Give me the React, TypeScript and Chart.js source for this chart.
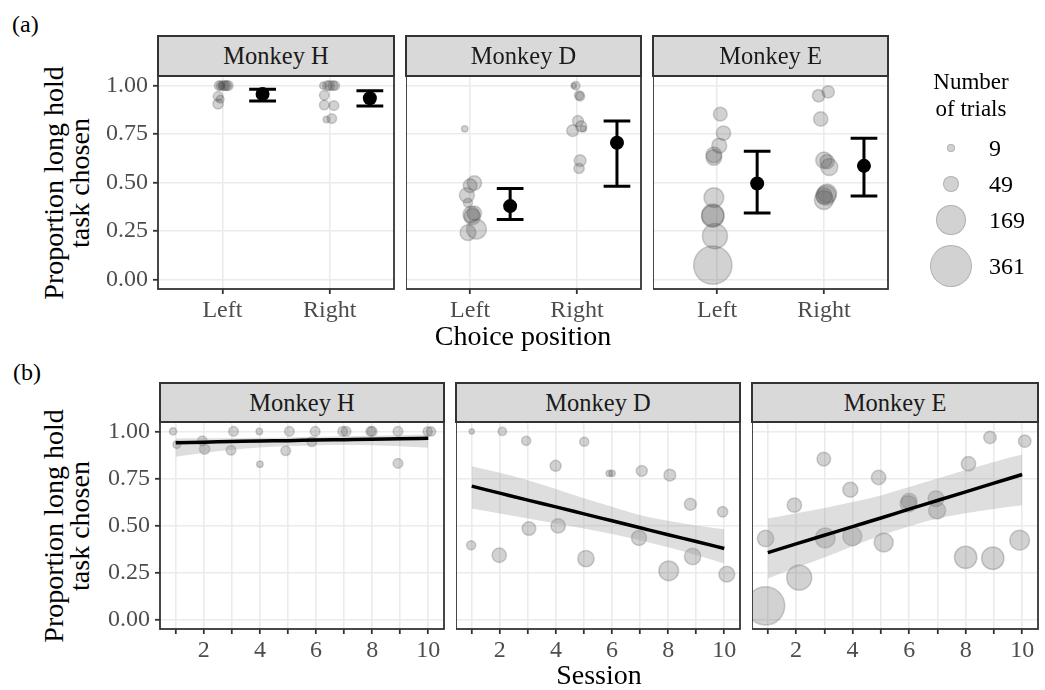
import React, { useEffect, useRef } from "react";
import { Chart, registerables } from "chart.js";

Chart.register(...registerables);

// ---------------- data ----------------
const monkeys = ["Monkey H", "Monkey D", "Monkey E"];
const sides = ["Left", "Right"];
const sessions = [1, 2, 3, 4, 5, 6, 7, 8, 9, 10];
const yTickValues = [0, 0.25, 0.5, 0.75, 1];
const legendTrials = [9, 49, 169, 361];

// Monkey H
const hLeft = [0.93, 0.906, 1.0, 1.0, 1.0, 0.945, 1.0, 1.0, 1.0, 1.0];
const hRight = [1.0, 0.95, 0.9, 0.825, 0.897, 1.0, 1.0, 1.0, 0.83, 1.0];
const hLeftN = [13, 23, 20, 9, 20, 20, 20, 20, 20, 18];
const hRightN = [11, 20, 20, 9, 20, 20, 20, 20, 20, 18];
const hLeftJitterA = [-0.02, -0.04, -0.03, -0.01, 0.01, -0.04, 0.025, 0.04, 0.055, -0.015];
const hRightJitterA = [-0.06, -0.05, -0.05, -0.03, 0.04, -0.02, 0.0, 0.03, 0.02, 0.05];
const hLeftJitterB = [0.04, 0.03, 0.06, -0.02, 0.05, -0.15, -0.05, -0.05, -0.08, -0.02];
const hRightJitterB = [-0.095, -0.05, -0.03, 0.0, -0.08, -0.03, 0.07, 0.0, -0.08, 0.1];
const hFit = [0.94, 0.943, 0.946, 0.949, 0.951, 0.954, 0.956, 0.958, 0.961, 0.963];
const hUpper = [0.962, 0.963, 0.964, 0.966, 0.968, 0.971, 0.974, 0.977, 0.98, 0.983];
const hLower = [0.865, 0.885, 0.902, 0.914, 0.922, 0.927, 0.928, 0.926, 0.921, 0.913];

// Monkey D
const dLeft = [0.395, 0.342, 0.484, 0.498, 0.324, 0.777, 0.434, 0.259, 0.335, 0.241];
const dRight = [1.0, 1.0, 0.95, 0.817, 0.945, 0.777, 0.79, 0.768, 0.613, 0.573];
const dLeftN = [18, 44, 40, 44, 57, 9, 48, 83, 57, 53];
const dRightN = [6, 15, 18, 26, 18, 9, 26, 30, 30, 23];
const dLeftJitterA = [-0.02, 0.04, 0.0, 0.04, 0.02, -0.05, -0.03, 0.06, 0.01, -0.02];
const dRightJitterA = [-0.03, -0.01, 0.02, 0.01, 0.03, 0.06, 0.04, -0.04, 0.03, 0.02];
const dLeftJitterB = [-0.02, -0.02, 0.04, 0.08, 0.07, 0.0, -0.04, 0.02, -0.13, 0.09];
const dRightJitterB = [0.0, 0.09, -0.06, -0.01, 0.01, -0.1, 0.06, 0.06, -0.21, -0.06];
const dFit = [0.709, 0.672, 0.635, 0.599, 0.562, 0.525, 0.488, 0.451, 0.415, 0.378];
const dUpper = [0.815, 0.78, 0.741, 0.694, 0.645, 0.6, 0.556, 0.525, 0.5, 0.48];
const dLower = [0.59, 0.564, 0.537, 0.51, 0.484, 0.455, 0.422, 0.385, 0.343, 0.298];

// Monkey E
const eLeft = [0.073, 0.223, 0.853, 0.69, 0.755, 0.63, 0.643, 0.331, 0.326, 0.422];
const eRight = [0.431, 0.608, 0.434, 0.443, 0.41, 0.615, 0.58, 0.828, 0.968, 0.948];
const eLeftN = [311, 133, 40, 48, 44, 53, 53, 106, 106, 83];
const eRightN = [57, 44, 83, 77, 77, 57, 62, 44, 33, 33];
const eLeftJitterA = [-0.04, -0.02, 0.03, 0.02, 0.06, -0.03, -0.03, -0.04, -0.04, -0.03];
const eRightJitterA = [0.0, 0.03, 0.02, 0.03, 0.0, 0.0, 0.05, -0.03, 0.04, -0.05];
const eLeftJitterB = [-0.08, 0.11, -0.02, -0.08, -0.08, 0.0, -0.05, 0.0, -0.04, -0.09];
const eRightJitterB = [-0.08, -0.06, 0.03, -0.01, 0.1, -0.03, -0.01, 0.1, -0.14, 0.09];
const eFit = [0.356, 0.402, 0.448, 0.494, 0.54, 0.587, 0.633, 0.679, 0.725, 0.771];
const eUpper = [0.537, 0.565, 0.593, 0.625, 0.66, 0.705, 0.75, 0.795, 0.838, 0.877];
const eLower = [0.218, 0.275, 0.33, 0.39, 0.447, 0.495, 0.537, 0.565, 0.588, 0.608];

// Summary (mean and interval) per monkey, H / D / E
const meanLeft = [0.957, 0.378, 0.495];
const lowLeft = [0.921, 0.309, 0.343];
const highLeft = [0.981, 0.469, 0.662];
const meanRight = [0.935, 0.705, 0.586];
const lowRight = [0.895, 0.481, 0.43];
const highRight = [0.974, 0.817, 0.728];

const monkeyRows = [
  { left: hLeft, right: hRight, leftN: hLeftN, rightN: hRightN, lja: hLeftJitterA, rja: hRightJitterA, ljb: hLeftJitterB, rjb: hRightJitterB, fit: hFit, upper: hUpper, lower: hLower },
  { left: dLeft, right: dRight, leftN: dLeftN, rightN: dRightN, lja: dLeftJitterA, rja: dRightJitterA, ljb: dLeftJitterB, rjb: dRightJitterB, fit: dFit, upper: dUpper, lower: dLower },
  { left: eLeft, right: eRight, leftN: eLeftN, rightN: eRightN, lja: eLeftJitterA, rja: eRightJitterA, ljb: eLeftJitterB, rjb: eRightJitterB, fit: eFit, upper: eUpper, lower: eLower },
];

// ---------------- style / layout ----------------
const FONT = '"Liberation Serif", "Times New Roman", Times, serif';
const GRID = "#EBEBEB";
const DARK = "#333333";
const TICK_COLOR = "#4D4D4D";
const POINT = "rgba(77,77,77,0.25)";
const RIBBON = "rgba(153,153,153,0.32)";
const PT = 26;
const PR = 14;
const XH = 38;
const YW = 52;
const MEAN_OFFSET = 0.375;
const CAP = 0.125;

const topPanels = [[158, 394], [406, 641], [653, 888]];
const botPanels = [[160, 444], [456, 740], [752, 1038]];
const TOP_T = 76, TOP_B = 289, BOT_T = 422, BOT_B = 629;

const visR = (n: number) => 0.7 + 1.09 * Math.sqrt(n);
const bubbleR = (n: number) => visR(n) - 0.75;

function rectFor(L: number, R: number, T: number, B: number, first: boolean) {
  const yw = first ? YW : 0;
  return { left: L - yw, top: T - PT, width: R - L + yw + PR, height: B - T + PT + XH, yw };
}

const framePlugin = {
  id: "panelFrame",
  afterDraw(chart: any) {
    const { ctx, chartArea: a } = chart;
    ctx.save();
    ctx.strokeStyle = DARK;
    ctx.lineWidth = 1.8;
    ctx.strokeRect(a.left, a.top, a.right - a.left, a.bottom - a.top);
    ctx.restore();
  },
};

function errorBarPlugin(bars: { x: number; lo: number; hi: number }[]) {
  return {
    id: "errorBars",
    afterDatasetsDraw(chart: any) {
      const { ctx } = chart;
      const xs = chart.scales.x;
      const ys = chart.scales.y;
      ctx.save();
      ctx.strokeStyle = "#000";
      ctx.lineWidth = 3;
      ctx.beginPath();
      for (const b of bars) {
        const x = xs.getPixelForValue(b.x);
        const x0 = xs.getPixelForValue(b.x - CAP);
        const x1 = xs.getPixelForValue(b.x + CAP);
        const yl = ys.getPixelForValue(b.lo);
        const yh = ys.getPixelForValue(b.hi);
        ctx.moveTo(x, yl); ctx.lineTo(x, yh);
        ctx.moveTo(x0, yl); ctx.lineTo(x1, yl);
        ctx.moveTo(x0, yh); ctx.lineTo(x1, yh);
      }
      ctx.stroke();
      ctx.restore();
    },
  };
}

function scalesFor(xmin: number, xmax: number, xTicks: number[], cb: any, showY: boolean, yw: number) {
  const tickFont = { family: FONT, size: 24 };
  return {
    x: {
      type: "linear",
      min: xmin,
      max: xmax,
      afterBuildTicks: (s: any) => { s.ticks = xTicks.map((v) => ({ value: v })); },
      afterFit: (s: any) => { s.height = XH; },
      ticks: { autoSkip: false, maxRotation: 0, minRotation: 0, padding: 2, color: TICK_COLOR, font: tickFont, callback: cb },
      grid: { color: GRID, lineWidth: 1.6, drawTicks: true, tickLength: 5, tickColor: DARK, tickWidth: 1.8 },
      border: { display: false },
    },
    y: {
      type: "linear",
      min: -0.05,
      max: 1.05,
      afterBuildTicks: (s: any) => { s.ticks = yTickValues.map((v) => ({ value: v })); },
      afterFit: (s: any) => { s.width = yw; },
      ticks: { display: showY, padding: 5, color: TICK_COLOR, font: tickFont, callback: (v: any) => Number(v).toFixed(2) },
      grid: { color: GRID, lineWidth: 1.6, drawTicks: showY, tickLength: 5, tickColor: DARK, tickWidth: 1.8 },
      border: { display: false },
    },
  };
}

function baseOptions(scales: any) {
  return {
    animation: false,
    responsive: false,
    maintainAspectRatio: false,
    events: [],
    layout: { autoPadding: false, padding: { top: PT, right: PR, left: 0, bottom: 0 } },
    plugins: { legend: { display: false }, tooltip: { enabled: false }, title: { display: false } },
    scales,
  };
}

function topConfig(m: number, yw: number): any {
  const d = monkeyRows[m];
  const pts: any[] = [];
  d.left.forEach((v, i) => pts.push({ x: 1 + d.lja[i], y: v, r: bubbleR(d.leftN[i]) }));
  d.right.forEach((v, i) => pts.push({ x: 2 + d.rja[i], y: v, r: bubbleR(d.rightN[i]) }));
  const means = [
    { x: 1 + MEAN_OFFSET, y: meanLeft[m], r: 7 },
    { x: 2 + MEAN_OFFSET, y: meanRight[m], r: 7 },
  ];
  const bars = [
    { x: 1 + MEAN_OFFSET, lo: lowLeft[m], hi: highLeft[m] },
    { x: 2 + MEAN_OFFSET, lo: lowRight[m], hi: highRight[m] },
  ];
  return {
    type: "bubble",
    data: {
      datasets: [
        { type: "bubble", data: pts, backgroundColor: POINT, borderColor: POINT, borderWidth: 1.5, clip: 0, order: 2 },
        { type: "bubble", data: means, backgroundColor: "#000", borderColor: "#000", borderWidth: 0, clip: 0, order: 1 },
      ],
    },
    options: baseOptions(scalesFor(0.4, 2.6, [1, 2], (_v: any, i: number) => sides[i], yw > 0, yw)),
    plugins: [errorBarPlugin(bars), framePlugin],
  };
}

function bottomConfig(m: number, yw: number): any {
  const d = monkeyRows[m];
  const pts: any[] = [];
  sessions.forEach((s, i) => {
    pts.push({ x: s + d.ljb[i], y: d.left[i], r: bubbleR(d.leftN[i]) });
    pts.push({ x: s + d.rjb[i], y: d.right[i], r: bubbleR(d.rightN[i]) });
  });
  const line = (arr: number[]) => sessions.map((s, i) => ({ x: s, y: arr[i] }));
  return {
    type: "bubble",
    data: {
      datasets: [
        { type: "bubble", data: pts, backgroundColor: POINT, borderColor: POINT, borderWidth: 1.5, clip: 0, order: 3 },
        { type: "line", data: line(d.upper), borderWidth: 0, borderColor: "rgba(0,0,0,0)", pointRadius: 0, fill: "+1", backgroundColor: RIBBON, cubicInterpolationMode: "monotone", order: 2 },
        { type: "line", data: line(d.lower), borderWidth: 0, borderColor: "rgba(0,0,0,0)", pointRadius: 0, fill: false, cubicInterpolationMode: "monotone", order: 2 },
        { type: "line", data: line(d.fit), borderWidth: 3.5, borderColor: "#000", pointRadius: 0, fill: false, cubicInterpolationMode: "monotone", order: 1 },
      ],
    },
    options: baseOptions(
      scalesFor(0.44, 10.56, sessions, (v: any) => (Number(v) % 2 === 0 ? String(v) : ""), yw > 0, yw)
    ),
    plugins: [framePlugin],
  };
}

const text = (extra: React.CSSProperties): React.CSSProperties => ({
  position: "absolute",
  fontFamily: FONT,
  whiteSpace: "nowrap",
  ...extra,
});

export default function App() {
  const topRefs = useRef<(HTMLCanvasElement | null)[]>([]);
  const botRefs = useRef<(HTMLCanvasElement | null)[]>([]);

  const topRects = topPanels.map(([L, R], i) => rectFor(L, R, TOP_T, TOP_B, i === 0));
  const botRects = botPanels.map(([L, R], i) => rectFor(L, R, BOT_T, BOT_B, i === 0));

  useEffect(() => {
    const charts: Chart[] = [];
    topRefs.current.forEach((c, i) => {
      if (c) charts.push(new Chart(c, topConfig(i, topRects[i].yw)));
    });
    botRefs.current.forEach((c, i) => {
      if (c) charts.push(new Chart(c, bottomConfig(i, botRects[i].yw)));
    });
    return () => charts.forEach((c) => c.destroy());
  }, []);

  const strip = (L: number, R: number, top: number, h: number, label: string) => (
    <div
      key={label + top}
      style={{
        position: "absolute",
        left: L - 1,
        top,
        width: R - L + 2,
        height: h,
        boxSizing: "border-box",
        border: `2px solid ${DARK}`,
        background: "#D9D9D9",
        display: "flex",
        alignItems: "center",
        justifyContent: "center",
        fontFamily: FONT,
        fontSize: 24.5,
        color: "#1A1A1A",
      }}
    >
      {label}
    </div>
  );

  const yTitle = (cy: number) => (
    <div
      style={text({
        left: 67 - 140,
        top: cy - 26,
        width: 280,
        height: 52,
        lineHeight: "26px",
        fontSize: 28,
        textAlign: "center",
        color: "#000",
        transform: "rotate(-90deg)",
      })}
    >
      Proportion long hold
      <br />
      task chosen
    </div>
  );

  return (
    <div style={{ position: "absolute", left: 0, top: 0, width: 1045, height: 690, background: "#fff", overflow: "hidden" }}>
      {topRects.map((r, i) => (
        <canvas
          key={"t" + i}
          ref={(el) => { topRefs.current[i] = el; }}
          width={r.width}
          height={r.height}
          style={{ position: "absolute", left: r.left, top: r.top, width: r.width, height: r.height }}
        />
      ))}
      {botRects.map((r, i) => (
        <canvas
          key={"b" + i}
          ref={(el) => { botRefs.current[i] = el; }}
          width={r.width}
          height={r.height}
          style={{ position: "absolute", left: r.left, top: r.top, width: r.width, height: r.height }}
        />
      ))}
      {topPanels.map(([L, R], i) => strip(L, R, 35, 42, monkeys[i]))}
      {botPanels.map(([L, R], i) => strip(L, R, 382, 41, monkeys[i]))}

      <div style={text({ left: 12, top: 10, fontSize: 24, lineHeight: "28px", color: "#000" })}>(a)</div>
      <div style={text({ left: 13, top: 358, fontSize: 24, lineHeight: "28px", color: "#000" })}>(b)</div>

      {yTitle((TOP_T + TOP_B) / 2)}
      {yTitle((BOT_T + BOT_B) / 2)}

      <div style={text({ left: 523 - 200, top: 320, width: 400, textAlign: "center", fontSize: 28, lineHeight: "32px", color: "#000" })}>
        Choice position
      </div>
      <div style={text({ left: 599 - 200, top: 659, width: 400, textAlign: "center", fontSize: 28, lineHeight: "32px", color: "#000" })}>
        Session
      </div>

      <div style={text({ left: 971 - 70, top: 68, width: 140, textAlign: "center", fontSize: 23, lineHeight: "27px", color: "#000" })}>
        Number
        <br />
        of trials
      </div>
      {legendTrials.map((n, i) => {
        const cy = [148, 184, 220, 266][i];
        const r = visR(n);
        return (
          <React.Fragment key={"lg" + n}>
            <div
              style={{
                position: "absolute",
                left: 951 - r,
                top: cy - r,
                width: 2 * r,
                height: 2 * r,
                boxSizing: "border-box",
                borderRadius: "50%",
                background: POINT,
                border: `1.5px solid ${POINT}`,
              }}
            />
            <div style={text({ left: 989, top: cy - 14, fontSize: 24, lineHeight: "28px", color: "#000" })}>{n}</div>
          </React.Fragment>
        );
      })}
    </div>
  );
}
